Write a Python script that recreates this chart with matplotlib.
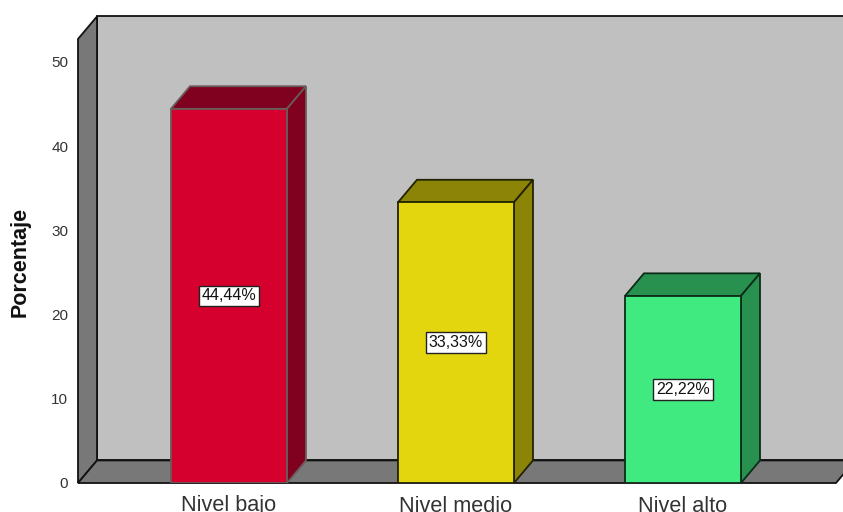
import matplotlib
matplotlib.use("Agg")
import matplotlib.pyplot as plt
from matplotlib.patches import Polygon

plt.rcParams["font.family"] = ["Liberation Sans", "DejaVu Sans"]

categories = ["Nivel bajo", "Nivel medio", "Nivel alto"]
values = [44.44, 33.33, 22.22]
labels = ["44,44%", "33,33%", "22,22%"]
front_colors = ["#D5002D", "#E3D60E", "#41EA80"]
dark_colors = ["#80001F", "#8B8406", "#289150"]
edge_colors = ["#6a5a5a", "#222200", "#0c2c18"]
yticks = [0, 10, 20, 30, 40, 50]

W, H = 843, 512
bar_w = 0.511
dx = 0.0837   # depth of the 3d box in x units
dy = 2.68     # same in y units
xmin, xmax = -0.665, 2.674
ymax = 52.73

fig = plt.figure(figsize=(W / 100, H / 100), dpi=100)
ax = fig.add_axes([78 / W, 1 - 483 / H, (836 - 78) / W, (483 - 39) / H])
ax.set_xlim(xmin, xmax)
ax.set_ylim(0, ymax)
for s in ax.spines.values():
    s.set_visible(False)
ax.patch.set_visible(False)


def poly(pts, fc, ec="#111111", z=1):
    p = Polygon(pts, closed=True, facecolor=fc, edgecolor=ec, linewidth=1.3, zorder=z, clip_on=False)
    ax.add_patch(p)


# walls and floor
far = xmax + 0.2
poly([(xmin + dx, dy), (far, dy), (far, ymax + dy), (xmin + dx, ymax + dy)], "#C0C0C0")
poly([(xmin, 0), (xmin + dx, dy), (xmin + dx, ymax + dy), (xmin, ymax)], "#787878")
poly([(xmin, 0), (xmax, 0), (xmax + dx, dy), (xmin + dx, dy)], "#787878")

# bars
for i, v in enumerate(values):
    l, r = i - bar_w / 2, i + bar_w / 2
    ec = edge_colors[i]
    ax.bar(i, v, width=bar_w, color=front_colors[i], edgecolor=ec, linewidth=1.3, zorder=3)
    poly([(l, v), (r, v), (r + dx, v + dy), (l + dx, v + dy)], dark_colors[i], ec, 2)
    poly([(r, 0), (r + dx, dy), (r + dx, v + dy), (r, v)], dark_colors[i], ec, 2)
    ax.text(i, v / 2, labels[i], ha="center", va="center", fontsize=11.5, color="#111111", zorder=5,
            bbox=dict(boxstyle="square,pad=0.17", facecolor="white", edgecolor="#222222", linewidth=1))

ax.set_yticks(yticks)
ax.set_xticks(range(len(categories)))
ax.set_xticklabels(categories, fontsize=15.6, color="#333333")
ax.tick_params(axis="both", length=0)
ax.tick_params(axis="y", labelsize=11, labelcolor="#333333", pad=7)
ax.tick_params(axis="x", pad=9)
ax.set_ylabel("Porcentaje", fontsize=15.5, fontweight="bold", color="#111111")
ax.yaxis.set_label_coords((31 - 78) / 758, 0.497)

fig.savefig("out.png", dpi=100, facecolor="white")
